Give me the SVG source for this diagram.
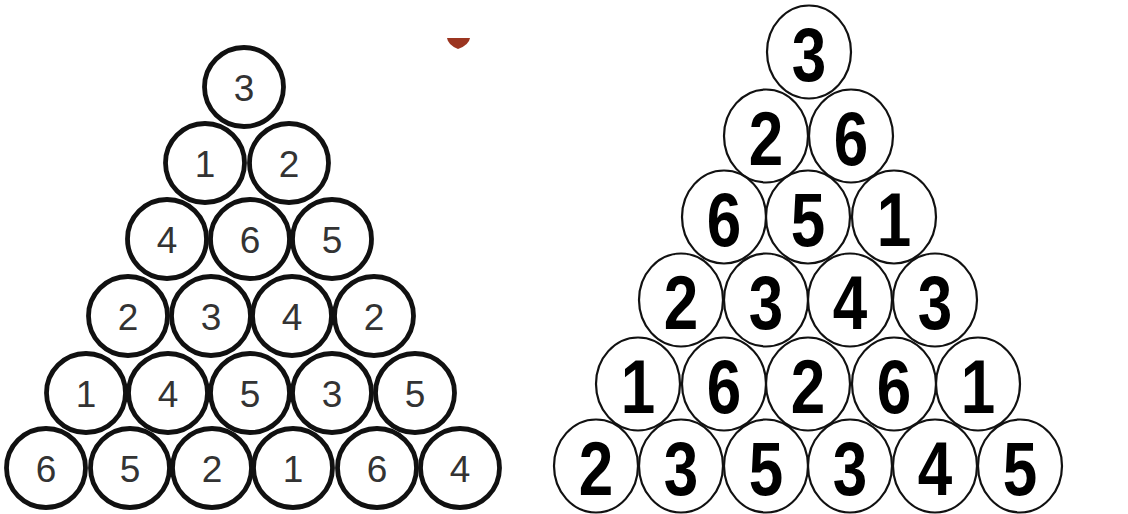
<svg xmlns="http://www.w3.org/2000/svg" width="1128" height="514" viewBox="0 0 1128 514">
<style>
.lc{fill:none;stroke:#111;stroke-width:4.8}
.lt{font-family:"Liberation Sans",Arial,sans-serif;font-size:37px;fill:#333;text-anchor:middle}
.rc{fill:none;stroke:#111;stroke-width:2.2}
.rt{font-family:"Liberation Sans",Arial,sans-serif;font-weight:bold;font-size:62px;fill:#000;text-anchor:middle}
</style>
<rect width="1128" height="514" fill="#fff"/>
<path d="M447,38 L470,38 Q469,45 458,49 Q448,45 447,38 Z" fill="#9b3520"/>
<g id="connectors"/>
<g id="left">
<g id="L1a" transform="translate(244,87)"><circle class="lc" r="39.5"/><text class="lt" y="14">3</text></g>
<g id="L2a" transform="translate(205,163)"><circle class="lc" r="39.5"/><text class="lt" y="14">1</text></g>
<g id="L2b" transform="translate(289,163)"><circle class="lc" r="39.5"/><text class="lt" y="14">2</text></g>
<g id="L3a" transform="translate(167,239)"><circle class="lc" r="39.5"/><text class="lt" y="14">4</text></g>
<g id="L3b" transform="translate(250,239)"><circle class="lc" r="39.5"/><text class="lt" y="14">6</text></g>
<g id="L3c" transform="translate(332,239)"><circle class="lc" r="39.5"/><text class="lt" y="14">5</text></g>
<g id="L4a" transform="translate(128,316)"><circle class="lc" r="39.5"/><text class="lt" y="14">2</text></g>
<g id="L4b" transform="translate(211,316)"><circle class="lc" r="39.5"/><text class="lt" y="14">3</text></g>
<g id="L4c" transform="translate(292,316)"><circle class="lc" r="39.5"/><text class="lt" y="14">4</text></g>
<g id="L4d" transform="translate(374,316)"><circle class="lc" r="39.5"/><text class="lt" y="14">2</text></g>
<g id="L5a" transform="translate(86,393)"><circle class="lc" r="39.5"/><text class="lt" y="14">1</text></g>
<g id="L5b" transform="translate(168,393)"><circle class="lc" r="39.5"/><text class="lt" y="14">4</text></g>
<g id="L5c" transform="translate(250,393)"><circle class="lc" r="39.5"/><text class="lt" y="14">5</text></g>
<g id="L5d" transform="translate(332,393)"><circle class="lc" r="39.5"/><text class="lt" y="14">3</text></g>
<g id="L5e" transform="translate(415,393)"><circle class="lc" r="39.5"/><text class="lt" y="14">5</text></g>
<g id="L6a" transform="translate(46,468)"><circle class="lc" r="39.5"/><text class="lt" y="14">6</text></g>
<g id="L6b" transform="translate(130,468)"><circle class="lc" r="39.5"/><text class="lt" y="14">5</text></g>
<g id="L6c" transform="translate(212,468)"><circle class="lc" r="39.5"/><text class="lt" y="14">2</text></g>
<g id="L6d" transform="translate(293,468)"><circle class="lc" r="39.5"/><text class="lt" y="14">1</text></g>
<g id="L6e" transform="translate(377,468)"><circle class="lc" r="39.5"/><text class="lt" y="14">6</text></g>
<g id="L6f" transform="translate(460,468)"><circle class="lc" r="39.5"/><text class="lt" y="14">4</text></g>
</g>
<g id="right">
<g id="R1a" transform="translate(809,52)"><ellipse class="rc" rx="42" ry="46.5"/><text class="rt" y="23.5" transform="scale(1,1.22)">3</text></g>
<g id="R2a" transform="translate(766,136)"><ellipse class="rc" rx="42" ry="46.5"/><text class="rt" y="23.5" transform="scale(1,1.22)">2</text></g>
<g id="R2b" transform="translate(851,136)"><ellipse class="rc" rx="42" ry="46.5"/><text class="rt" y="23.5" transform="scale(1,1.22)">6</text></g>
<g id="R3a" transform="translate(724,217)"><ellipse class="rc" rx="42" ry="46.5"/><text class="rt" y="23.5" transform="scale(1,1.22)">6</text></g>
<g id="R3b" transform="translate(808,217)"><ellipse class="rc" rx="42" ry="46.5"/><text class="rt" y="23.5" transform="scale(1,1.22)">5</text></g>
<g id="R3c" transform="translate(894,217)"><ellipse class="rc" rx="42" ry="46.5"/><text class="rt" y="23.5" transform="scale(1,1.22)">1</text></g>
<g id="R4a" transform="translate(681,300)"><ellipse class="rc" rx="42" ry="46.5"/><text class="rt" y="23.5" transform="scale(1,1.22)">2</text></g>
<g id="R4b" transform="translate(766,300)"><ellipse class="rc" rx="42" ry="46.5"/><text class="rt" y="23.5" transform="scale(1,1.22)">3</text></g>
<g id="R4c" transform="translate(850,300)"><ellipse class="rc" rx="42" ry="46.5"/><text class="rt" y="23.5" transform="scale(1,1.22)">4</text></g>
<g id="R4d" transform="translate(935,300)"><ellipse class="rc" rx="42" ry="46.5"/><text class="rt" y="23.5" transform="scale(1,1.22)">3</text></g>
<g id="R5a" transform="translate(638,384)"><ellipse class="rc" rx="42" ry="46.5"/><text class="rt" y="23.5" transform="scale(1,1.22)">1</text></g>
<g id="R5b" transform="translate(724,384)"><ellipse class="rc" rx="42" ry="46.5"/><text class="rt" y="23.5" transform="scale(1,1.22)">6</text></g>
<g id="R5c" transform="translate(808,384)"><ellipse class="rc" rx="42" ry="46.5"/><text class="rt" y="23.5" transform="scale(1,1.22)">2</text></g>
<g id="R5d" transform="translate(894,384)"><ellipse class="rc" rx="42" ry="46.5"/><text class="rt" y="23.5" transform="scale(1,1.22)">6</text></g>
<g id="R5e" transform="translate(978,384)"><ellipse class="rc" rx="42" ry="46.5"/><text class="rt" y="23.5" transform="scale(1,1.22)">1</text></g>
<g id="R6a" transform="translate(596,466)"><ellipse class="rc" rx="42" ry="46.5"/><text class="rt" y="23.5" transform="scale(1,1.22)">2</text></g>
<g id="R6b" transform="translate(681,466)"><ellipse class="rc" rx="42" ry="46.5"/><text class="rt" y="23.5" transform="scale(1,1.22)">3</text></g>
<g id="R6c" transform="translate(766,466)"><ellipse class="rc" rx="42" ry="46.5"/><text class="rt" y="23.5" transform="scale(1,1.22)">5</text></g>
<g id="R6d" transform="translate(850,466)"><ellipse class="rc" rx="42" ry="46.5"/><text class="rt" y="23.5" transform="scale(1,1.22)">3</text></g>
<g id="R6e" transform="translate(935,466)"><ellipse class="rc" rx="42" ry="46.5"/><text class="rt" y="23.5" transform="scale(1,1.22)">4</text></g>
<g id="R6f" transform="translate(1020,466)"><ellipse class="rc" rx="42" ry="46.5"/><text class="rt" y="23.5" transform="scale(1,1.22)">5</text></g>
</g>
</svg>
